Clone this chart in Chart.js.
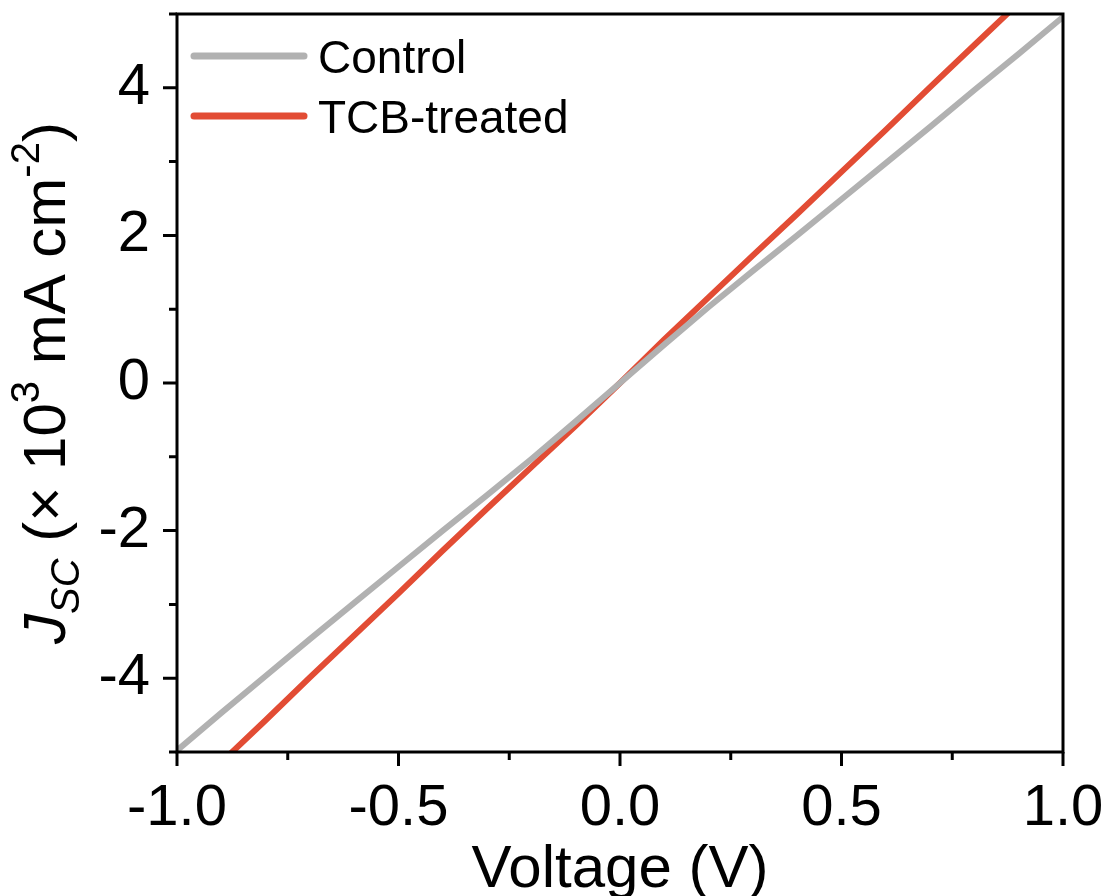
<!DOCTYPE html>
<html>
<head>
<meta charset="utf-8">
<script src="https://cdn.jsdelivr.net/npm/chart.js@4.4.1/dist/chart.umd.min.js"></script>
<style>
  html, body { margin: 0; padding: 0; background: #fff; }
  #wrap { width: 1109px; height: 896px; }
</style>
</head>
<body>
<div id="wrap"><canvas id="ivChart" width="1109" height="896"></canvas></div>
<script>
const FONT = '"Liberation Sans", Arial, Helvetica, sans-serif';

// J-V data, voltage (V) vs current density (x10^3 mA cm^-2)
const controlV = [-1.0, -0.9, -0.8, -0.7, -0.6, -0.5, -0.4, -0.3, -0.2, -0.1, 0.0,
                  0.1, 0.2, 0.3, 0.4, 0.5, 0.6, 0.7, 0.8, 0.9, 1.0];
const controlJ = [-4.98, -4.47, -3.97, -3.47, -2.98, -2.49, -2.00, -1.52, -1.03, -0.52, 0.0,
                  0.52, 1.03, 1.52, 2.00, 2.49, 2.98, 3.47, 3.97, 4.46, 4.96];
const tcbV = [-0.9, -0.8, -0.7, -0.6, -0.5, -0.4, -0.3, -0.2, -0.1, 0.0,
              0.1, 0.2, 0.3, 0.4, 0.5, 0.6, 0.7, 0.8, 0.9];
const tcbJ = [-5.14, -4.57, -3.99, -3.42, -2.85, -2.27, -1.70, -1.14, -0.58, 0.0,
              0.59, 1.16, 1.73, 2.29, 2.86, 3.43, 4.01, 4.58, 5.15];

const xMin = -1.0, xMax = 1.0, xStep = 0.25;
const yMin = -5, yMax = 5, yStep = 1;
const xMajor = [-1.0, -0.5, 0.0, 0.5, 1.0];
const yMajor = [-4, -2, 0, 2, 4];

const GRAY = '#b1b1b1';
const RED = '#e24c34';

const toXY = (xs, ys) => xs.map((x, i) => ({ x, y: ys[i] }));
const isMajor = (list, v) => list.some(m => Math.abs(m - v) < 1e-6);

// frame + outward ticks
const frameTicks = {
  id: 'frameTicks',
  afterDatasetsDraw(chart) {
    const { ctx, chartArea: a, scales } = chart;
    ctx.save();
    ctx.strokeStyle = '#000';
    ctx.lineWidth = 3;
    ctx.lineCap = 'butt';
    ctx.strokeRect(a.left, a.top, a.right - a.left, a.bottom - a.top);
    ctx.beginPath();
    scales.x.ticks.forEach(t => {
      const px = scales.x.getPixelForValue(t.value);
      const len = isMajor(xMajor, t.value) ? 14 : 8;
      ctx.moveTo(px, a.bottom);
      ctx.lineTo(px, a.bottom + len);
    });
    scales.y.ticks.forEach(t => {
      const py = scales.y.getPixelForValue(t.value);
      const len = isMajor(yMajor, t.value) ? 14 : 8;
      ctx.moveTo(a.left, py);
      ctx.lineTo(a.left - len, py);
    });
    ctx.stroke();
    ctx.restore();
  }
};

// legend inside upper-left
const innerLegend = {
  id: 'innerLegend',
  afterDraw(chart) {
    const { ctx, chartArea: a } = chart;
    ctx.save();
    ctx.font = '46px ' + FONT;
    ctx.textBaseline = 'alphabetic';
    ctx.fillStyle = '#000';
    chart.data.datasets.forEach((ds, i) => {
      const y = a.top + 42 + i * 60;
      ctx.strokeStyle = ds.borderColor;
      ctx.lineWidth = 7;
      ctx.lineCap = 'round';
      ctx.beginPath();
      ctx.moveTo(a.left + 17, y);
      ctx.lineTo(a.left + 127, y);
      ctx.stroke();
      ctx.fillText(ds.label, a.left + 141, y + 17);
    });
    ctx.restore();
  }
};

// axis titles with rich text
const axisTitles = {
  id: 'axisTitles',
  afterDraw(chart) {
    const { ctx, chartArea: a } = chart;
    ctx.save();
    ctx.fillStyle = '#000';
    ctx.font = '60px ' + FONT;
    ctx.textAlign = 'center';
    ctx.textBaseline = 'alphabetic';
    ctx.fillText('Voltage (V)', (a.left + a.right) / 2, 887);

    const parts = [
      { t: 'J', f: 'italic 60px ', dy: 0 },
      { t: 'SC', f: 'italic 40px ', dy: 14 },
      { t: ' (\u00d7 10', f: '60px ', dy: 0 },
      { t: '3', f: '40px ', dy: -26 },
      { t: ' mA cm', f: '60px ', dy: 0 },
      { t: '-2', f: '40px ', dy: -26 },
      { t: ')', f: '60px ', dy: 0 }
    ];
    ctx.textAlign = 'left';
    let total = 0;
    parts.forEach(p => { ctx.font = p.f + FONT; p.w = ctx.measureText(p.t).width; total += p.w; });
    ctx.translate(65, (a.top + a.bottom) / 2);
    ctx.rotate(-Math.PI / 2);
    let x = -total / 2;
    parts.forEach(p => {
      ctx.font = p.f + FONT;
      ctx.fillText(p.t, x, p.dy);
      x += p.w;
    });
    ctx.restore();
  }
};

new Chart(document.getElementById('ivChart').getContext('2d'), {
  type: 'scatter',
  data: {
    datasets: [
      {
        label: 'Control',
        data: toXY(controlV, controlJ),
        borderColor: GRAY,
        backgroundColor: GRAY,
        showLine: true,
        borderWidth: 6,
        pointRadius: 0,
        tension: 0,
      },
      {
        label: 'TCB-treated',
        data: toXY(tcbV, tcbJ),
        borderColor: RED,
        backgroundColor: RED,
        showLine: true,
        borderWidth: 6,
        pointRadius: 0,
        tension: 0,
      },
    ],
  },
  options: {
    responsive: false,
    animation: false,
    layout: { padding: { top: 14, right: 46, left: 0, bottom: 0 } },
    plugins: {
      legend: { display: false },
      tooltip: { enabled: false },
    },
    scales: {
      x: {
        type: 'linear',
        min: xMin,
        max: xMax,
        afterFit: s => { s.height = 144; s.paddingLeft = 0; s.paddingRight = 0; },
        border: { display: false },
        grid: { display: false, drawTicks: false },
        ticks: {
          stepSize: xStep,
          autoSkip: false,
          maxRotation: 0,
          padding: 22,
          color: '#000',
          font: { family: FONT, size: 58 },
          callback: v => isMajor(xMajor, v) ? v.toFixed(1) : '',
        },
      },
      y: {
        type: 'linear',
        min: yMin,
        max: yMax,
        afterFit: s => { s.width = 177; s.paddingTop = 0; s.paddingBottom = 0; },
        border: { display: false },
        grid: { display: false, drawTicks: false },
        ticks: {
          stepSize: yStep,
          autoSkip: false,
          padding: 27,
          color: '#000',
          font: { family: FONT, size: 58 },
          callback: v => isMajor(yMajor, v) ? String(v) : '',
        },
      },
    },
  },
  plugins: [frameTicks, innerLegend, axisTitles],
});
</script>
</body>
</html>
